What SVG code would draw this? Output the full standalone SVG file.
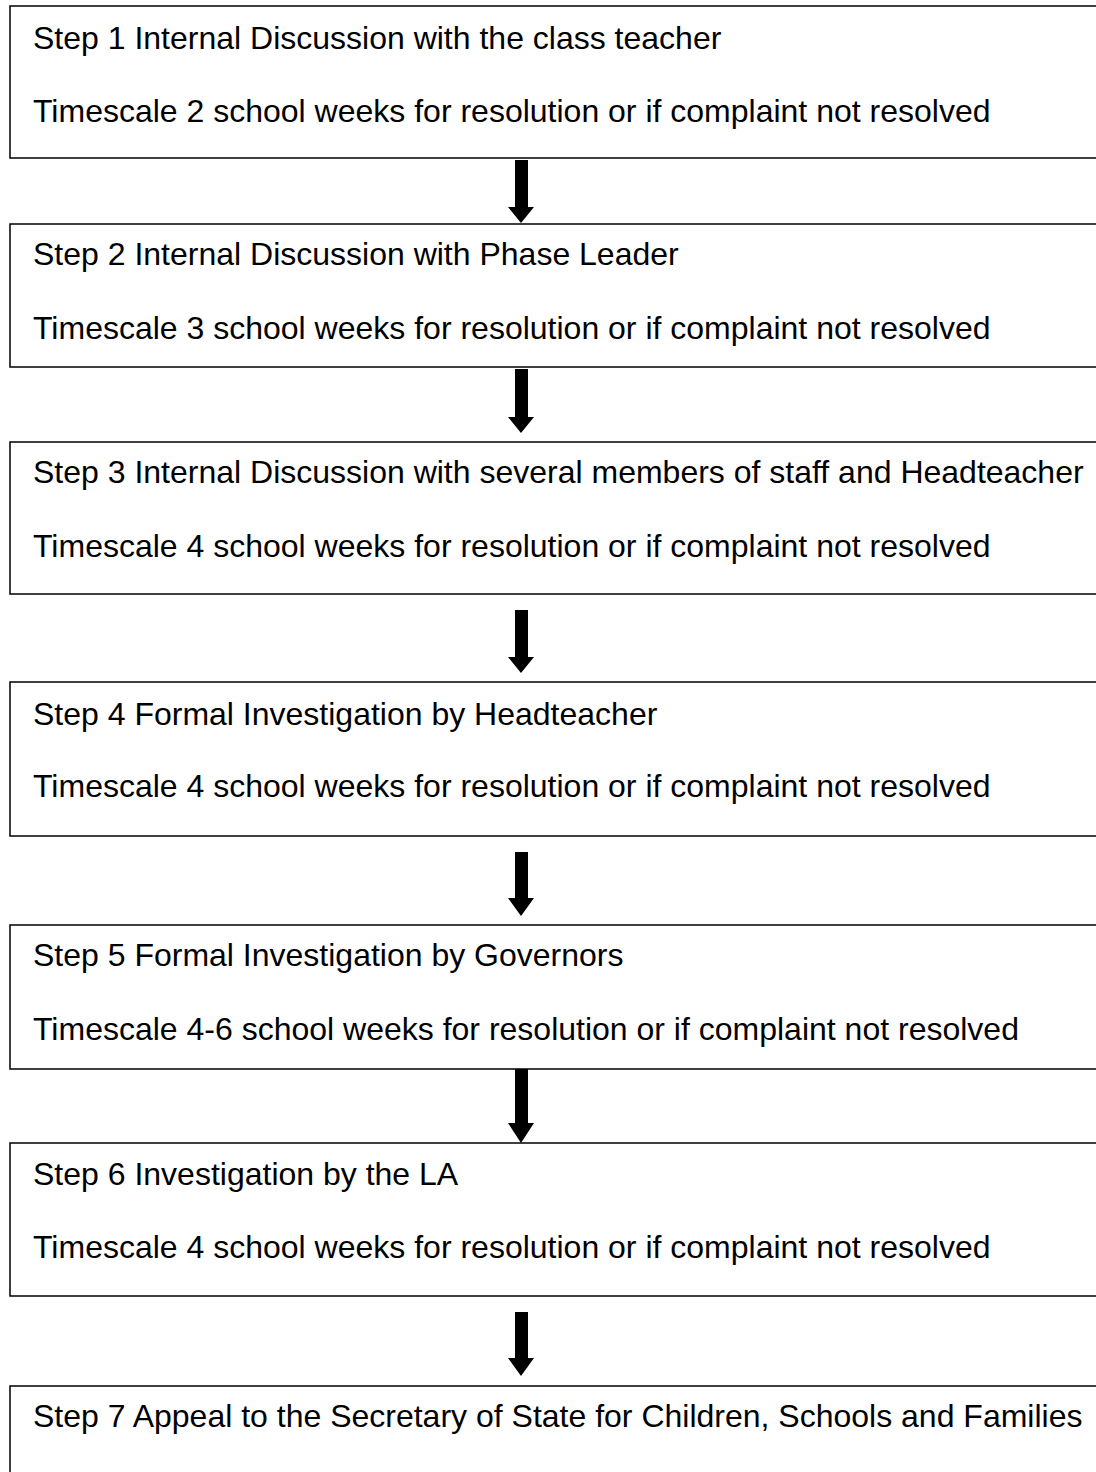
<svg xmlns="http://www.w3.org/2000/svg" width="1096" height="1472" viewBox="0 0 1096 1472">
<style>
.box{fill:#fff;stroke:#000;stroke-width:1.5}
.t{font-family:"Liberation Sans",Arial,sans-serif;font-size:32px;fill:#000}
.arr{fill:#000}
</style>
<rect width="1096" height="1472" fill="#fff"/>
<g id="step1"><rect class="box" x="10" y="6" width="1100" height="152"/><text class="t" x="33" y="49">Step 1 Internal Discussion with the class teacher</text><text class="t" x="33" y="122">Timescale 2 school weeks for resolution or if complaint not resolved</text></g>
<g id="step2"><rect class="box" x="10" y="224" width="1100" height="143"/><text class="t" x="33" y="265">Step 2 Internal Discussion with Phase Leader</text><text class="t" x="33" y="339">Timescale 3 school weeks for resolution or if complaint not resolved</text></g>
<g id="step3"><rect class="box" x="10" y="442" width="1100" height="152"/><text class="t" x="33" y="483">Step 3 Internal Discussion with several members of staff and Headteacher</text><text class="t" x="33" y="557">Timescale 4 school weeks for resolution or if complaint not resolved</text></g>
<g id="step4"><rect class="box" x="10" y="682" width="1100" height="154"/><text class="t" x="33" y="725">Step 4 Formal Investigation by Headteacher</text><text class="t" x="33" y="797">Timescale 4 school weeks for resolution or if complaint not resolved</text></g>
<g id="step5"><rect class="box" x="10" y="925" width="1100" height="144"/><text class="t" x="33" y="966">Step 5 Formal Investigation by Governors</text><text class="t" x="33" y="1040">Timescale 4-6 school weeks for resolution or if complaint not resolved</text></g>
<g id="step6"><rect class="box" x="10" y="1143" width="1100" height="153"/><text class="t" x="33" y="1185">Step 6 Investigation by the LA</text><text class="t" x="33" y="1258">Timescale 4 school weeks for resolution or if complaint not resolved</text></g>
<g id="step7"><rect class="box" x="10" y="1386" width="1100" height="200"/><text class="t" x="33" y="1427">Step 7 Appeal to the Secretary of State for Children, Schools and Families</text></g>
<g id="connectors">
<polygon class="arr" points="515,160 528,160 528,207 534,207 521,223 508,207 515,207"/>
<polygon class="arr" points="515,369 528,369 528,417 534,417 521,433 508,417 515,417"/>
<polygon class="arr" points="515,610 528,610 528,657 534,657 521,673 508,657 515,657"/>
<polygon class="arr" points="515,852 528,852 528,898 534,898 521,916 508,898 515,898"/>
<polygon class="arr" points="515,1069 528,1069 528,1123 534,1123 521,1143 508,1123 515,1123"/>
<polygon class="arr" points="515,1312 528,1312 528,1358 534,1358 521,1376 508,1358 515,1358"/>
</g>
</svg>
